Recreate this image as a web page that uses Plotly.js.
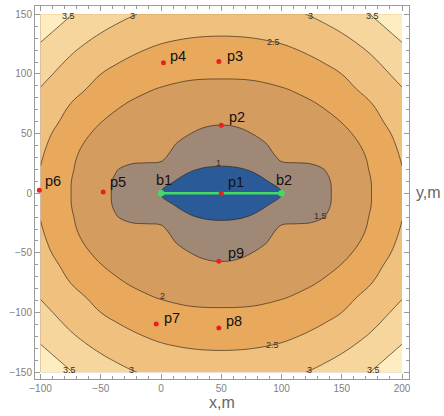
<!DOCTYPE html>
<html>
<head>
<meta charset="utf-8">
<script src="https://cdn.plot.ly/plotly-3.0.1.min.js"></script>
<style>
html,body{margin:0;padding:0;background:#fff;}
#chart{width:444px;height:416px;}
</style>
</head>
<body>
<div id="chart"></div>
<script>
// ---- data ----
const gridX = [-100, -75, -50, -37.5, -25, -12.5, 0, 12.5, 25, 37.5, 50, 62.5, 75, 87.5, 100, 112.5, 125, 137.5, 150, 175, 200];
const gridY = [-150, -125, -100, -87.5, -75, -60, -50, -40, -30, -20, -10, 0, 10, 20, 30, 40, 50, 60, 75, 87.5, 100, 125, 150];
const zRows = [
  [3.866, 3.517, 3.246, 3.132, 3.032, 2.953, 2.893, 2.845, 2.811, 2.791, 2.784, 2.791, 2.811, 2.845, 2.893, 2.953, 3.032, 3.132, 3.246, 3.517, 3.866],
  [3.476, 3.125, 2.853, 2.743, 2.646, 2.563, 2.496, 2.449, 2.417, 2.400, 2.395, 2.400, 2.417, 2.449, 2.496, 2.563, 2.646, 2.743, 2.853, 3.125, 3.476],
  [3.142, 2.795, 2.501, 2.388, 2.290, 2.208, 2.143, 2.091, 2.064, 2.055, 2.054, 2.055, 2.064, 2.091, 2.143, 2.208, 2.290, 2.388, 2.501, 2.795, 3.142],
  [2.981, 2.644, 2.365, 2.224, 2.120, 2.033, 1.981, 1.942, 1.912, 1.896, 1.892, 1.896, 1.912, 1.942, 1.981, 2.033, 2.120, 2.224, 2.365, 2.644, 2.981],
  [2.875, 2.496, 2.200, 2.060, 1.966, 1.916, 1.882, 1.823, 1.775, 1.744, 1.733, 1.744, 1.775, 1.823, 1.882, 1.916, 1.966, 2.060, 2.200, 2.496, 2.875],
  [2.732, 2.354, 2.010, 1.901, 1.829, 1.791, 1.764, 1.681, 1.610, 1.561, 1.542, 1.561, 1.610, 1.681, 1.764, 1.791, 1.829, 1.901, 2.010, 2.354, 2.732],
  [2.642, 2.257, 1.870, 1.806, 1.760, 1.740, 1.700, 1.586, 1.497, 1.422, 1.397, 1.422, 1.497, 1.586, 1.700, 1.740, 1.760, 1.806, 1.870, 2.257, 2.642],
  [2.593, 2.137, 1.780, 1.710, 1.690, 1.680, 1.640, 1.483, 1.339, 1.266, 1.244, 1.266, 1.339, 1.483, 1.640, 1.680, 1.690, 1.710, 1.780, 2.137, 2.593],
  [2.535, 2.070, 1.720, 1.615, 1.620, 1.620, 1.590, 1.310, 1.177, 1.111, 1.090, 1.111, 1.177, 1.310, 1.590, 1.620, 1.620, 1.615, 1.720, 2.070, 2.535],
  [2.485, 2.037, 1.693, 1.520, 1.400, 1.350, 1.330, 1.138, 1.016, 0.976, 0.966, 0.976, 1.016, 1.138, 1.330, 1.350, 1.400, 1.520, 1.693, 2.037, 2.485],
  [2.470, 2.009, 1.650, 1.450, 1.330, 1.220, 1.150, 0.983, 0.924, 0.893, 0.883, 0.893, 0.924, 0.983, 1.150, 1.220, 1.330, 1.450, 1.650, 2.009, 2.470],
  [2.463, 2.005, 1.639, 1.440, 1.300, 1.150, 0.995, 0.900, 0.840, 0.810, 0.800, 0.810, 0.840, 0.900, 0.995, 1.150, 1.300, 1.440, 1.639, 2.005, 2.463],
  [2.470, 2.009, 1.650, 1.450, 1.330, 1.220, 1.150, 0.983, 0.924, 0.893, 0.883, 0.893, 0.924, 0.983, 1.150, 1.220, 1.330, 1.450, 1.650, 2.009, 2.470],
  [2.485, 2.037, 1.693, 1.520, 1.400, 1.350, 1.330, 1.138, 1.016, 0.976, 0.966, 0.976, 1.016, 1.138, 1.330, 1.350, 1.400, 1.520, 1.693, 2.037, 2.485],
  [2.535, 2.070, 1.720, 1.615, 1.620, 1.620, 1.590, 1.310, 1.177, 1.111, 1.090, 1.111, 1.177, 1.310, 1.590, 1.620, 1.620, 1.615, 1.720, 2.070, 2.535],
  [2.593, 2.137, 1.780, 1.710, 1.690, 1.680, 1.640, 1.483, 1.339, 1.266, 1.244, 1.266, 1.339, 1.483, 1.640, 1.680, 1.690, 1.710, 1.780, 2.137, 2.593],
  [2.642, 2.257, 1.870, 1.806, 1.760, 1.740, 1.700, 1.586, 1.497, 1.422, 1.397, 1.422, 1.497, 1.586, 1.700, 1.740, 1.760, 1.806, 1.870, 2.257, 2.642],
  [2.732, 2.354, 2.010, 1.901, 1.829, 1.791, 1.764, 1.681, 1.610, 1.561, 1.542, 1.561, 1.610, 1.681, 1.764, 1.791, 1.829, 1.901, 2.010, 2.354, 2.732],
  [2.875, 2.496, 2.200, 2.060, 1.966, 1.916, 1.882, 1.823, 1.775, 1.744, 1.733, 1.744, 1.775, 1.823, 1.882, 1.916, 1.966, 2.060, 2.200, 2.496, 2.875],
  [2.981, 2.644, 2.365, 2.224, 2.120, 2.033, 1.981, 1.942, 1.912, 1.896, 1.892, 1.896, 1.912, 1.942, 1.981, 2.033, 2.120, 2.224, 2.365, 2.644, 2.981],
  [3.142, 2.795, 2.501, 2.388, 2.290, 2.208, 2.143, 2.091, 2.064, 2.055, 2.054, 2.055, 2.064, 2.091, 2.143, 2.208, 2.290, 2.388, 2.501, 2.795, 3.142],
  [3.476, 3.125, 2.853, 2.743, 2.646, 2.563, 2.496, 2.449, 2.417, 2.400, 2.395, 2.400, 2.417, 2.449, 2.496, 2.563, 2.646, 2.743, 2.853, 3.125, 3.476],
  [3.866, 3.517, 3.246, 3.132, 3.032, 2.953, 2.893, 2.845, 2.811, 2.791, 2.784, 2.791, 2.811, 2.845, 2.893, 2.953, 3.032, 3.132, 3.246, 3.517, 3.866]
];
const levelStart = 1, levelEnd = 3.5, levelStep = 0.5;

const pointNames = ['p1', 'p2', 'p3', 'p4', 'p5', 'p6', 'p7', 'p8', 'p9'];
const pointX = [50, 50, 48, 2, -48, -101, -4, 48, 48];
const pointY = [0, 57, 110.5, 109.5, 1, 2.5, -109.5, -113, -57];

const baseNames = ['b1', 'b2'];
const baseX = [0, 100];
const baseY = [0, 0];

const contourLabelText = ['3.5', '3', '3', '3.5', '2.5', '1', '1.5', '2', '2.5', '3.5', '3', '3', '3.5'];

// ---- layout / style config ----
const bandColors = ['#2b5a98', '#a08877', '#d59c5f', '#e8a95d', '#f0c17e', '#f6d69c', '#fdedc0'];
const contourLabelPos = [
  [-76.9, 148.6], [-23.5, 148.6], [123.7, 148.6], [175.9, 148.6],
  [93.2, 126.6], [47.6, 25.1], [132.5, -19], [1.1, -85.8], [92.7, -126.9],
  [-76.1, -148.3], [-24.3, -148.1], [123.1, -148.1], [176.2, -148.1]
];
const pointLabelShift = {
  p1: [15, 11], p2: [16, 8], p3: [16, 5], p4: [15, 7], p5: [15, 10],
  p6: [14, 9], p7: [16, 6], p8: [15, 7], p9: [17, 8]
};
const baseLabelShift = { b1: [3, 13], b2: [2, 13] };

// stepped colorscale: each band colour is constant around its sample point k/6
const nb = bandColors.length;
const colorscale = [];
for (let k = 0; k < nb; k++) {
  const lo = k === 0 ? 0 : (2 * k - 1) / (2 * (nb - 1));
  const hi = k === nb - 1 ? 1 : (2 * k + 1) / (2 * (nb - 1));
  colorscale.push([lo, bandColors[k]]);
  colorscale.push([hi, bandColors[k]]);
}

const traces = [
  {
    type: 'contour',
    x: gridX, y: gridY, z: zRows,
    autocontour: false,
    contours: { start: levelStart, end: levelEnd, size: levelStep, coloring: 'fill', showlines: true },
    line: { color: 'rgba(40,30,20,0.7)', width: 0.9, smoothing: 1.2 },
    colorscale: colorscale,
    showscale: false,
    hoverinfo: 'skip'
  },
  {
    type: 'scatter', mode: 'lines+markers',
    x: baseX, y: baseY,
    line: { color: '#45d965', width: 2.6 },
    marker: { color: '#45d965', size: 6.5 },
    hoverinfo: 'skip'
  },
  {
    type: 'scatter', mode: 'markers',
    x: pointX, y: pointY,
    marker: { color: '#e8211c', size: 5 },
    hoverinfo: 'skip',
    cliponaxis: false
  }
];

const annotations = [];
const labelFont = { family: 'Liberation Sans, Arial, sans-serif', size: 14.5, color: '#111' };
pointNames.forEach((n, i) => {
  const s = pointLabelShift[n];
  annotations.push({ x: pointX[i], y: pointY[i], text: n, showarrow: false,
    xshift: s[0], yshift: s[1], font: labelFont, xanchor: 'center', yanchor: 'middle' });
});
baseNames.forEach((n, i) => {
  const s = baseLabelShift[n];
  annotations.push({ x: baseX[i], y: baseY[i], text: n, showarrow: false,
    xshift: s[0], yshift: s[1], font: labelFont, xanchor: 'center', yanchor: 'middle' });
});
contourLabelText.forEach((t, i) => {
  annotations.push({ x: contourLabelPos[i][0], y: contourLabelPos[i][1], text: t, showarrow: false,
    font: { family: 'Liberation Sans, Arial, sans-serif', size: 9, color: '#3a3026' },
    xanchor: 'center', yanchor: 'middle' });
});
annotations.push({ xref: 'paper', yref: 'paper', x: 1.052, y: 0.5, text: 'y,m', showarrow: false,
  font: { family: 'Liberation Sans, Arial, sans-serif', size: 16, color: '#666' }, xanchor: 'center', yanchor: 'middle' });

const axisCommon = {
  showline: true, linecolor: '#9a9a9a', linewidth: 1, mirror: 'allticks',
  ticks: 'inside', ticklen: 5, tickcolor: '#9a9a9a', tickwidth: 1,
  showgrid: false, zeroline: false,
  dtick: 50, tick0: 0,
  minor: { dtick: 10, ticks: 'inside', ticklen: 3, tickcolor: '#9a9a9a', tickwidth: 1, showgrid: false },
  tickfont: { family: 'Liberation Sans, Arial, sans-serif', size: 10, color: '#808080' }
};

const layout = {
  width: 444, height: 416,
  margin: { l: 35, r: 35, t: 6, b: 37 },
  paper_bgcolor: '#fff', plot_bgcolor: '#fff',
  showlegend: false,
  xaxis: Object.assign({}, axisCommon, {
    range: [-104.6, 205.8],
    title: { text: 'x,m', font: { family: 'Liberation Sans, Arial, sans-serif', size: 16, color: '#666' }, standoff: 2 }
  }),
  yaxis: Object.assign({}, axisCommon, {
    range: [-155.7, 157]
  }),
  annotations: annotations
};

Plotly.newPlot('chart', traces, layout, { displayModeBar: false, staticPlot: true });
</script>
</body>
</html>
